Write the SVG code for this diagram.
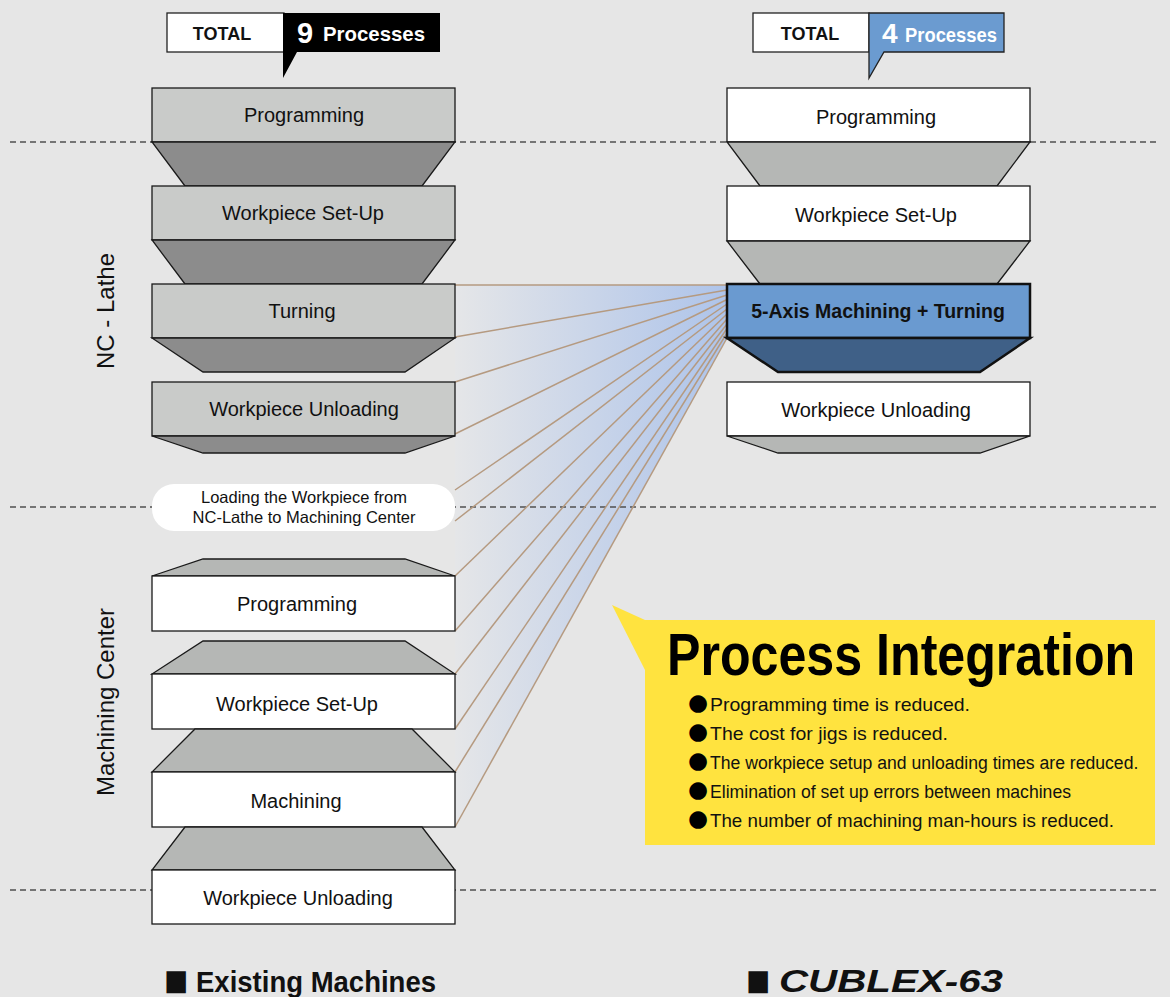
<svg xmlns="http://www.w3.org/2000/svg" width="1170" height="997" viewBox="0 0 1170 997">
<defs>
<linearGradient id="fan" gradientUnits="userSpaceOnUse" x1="455" y1="0" x2="727" y2="0">
<stop offset="0" stop-color="#e5e6e8"/>
<stop offset="1" stop-color="#aec4ea"/>
</linearGradient>
<style>
.bg{fill:#e6e6e6}
.dash{stroke:#505050;stroke-width:1.3;stroke-dasharray:6,4;fill:none}
.bx{stroke:#1a1a1a;stroke-width:1.3}
.g1{fill:#c9cbc9}
.g2{fill:#8c8c8c}
.g3{fill:#b5b7b5}
.w{fill:#ffffff}
.lbl{font-family:"Liberation Sans",Arial,sans-serif;font-size:20px;fill:#111;text-anchor:middle}
.con{stroke:#b59a80;stroke-width:1.5;fill:none}
.bul{font-family:"Liberation Sans",Arial,sans-serif;font-size:19px;fill:#111}
.dot{font-family:"DejaVu Sans",sans-serif;font-size:23px;fill:#000}
.sq{font-family:"DejaVu Sans",sans-serif;font-size:29px;fill:#111}
</style>
</defs>
<rect class="bg" x="0" y="0" width="1170" height="997"/>

<polygon points="455,285 727,285 727,338 455,827" fill="url(#fan)"/>

<g id="dividers">
<line class="dash" x1="10" y1="142" x2="1160" y2="142"/>
<line class="dash" x1="10" y1="507" x2="1160" y2="507"/>
<line class="dash" x1="10" y1="890" x2="1160" y2="890"/>
</g>

<g id="connectors">
<line class="con" x1="455" y1="285" x2="727" y2="285"/>
<line class="con" x1="455" y1="337" x2="727" y2="290"/>
<line class="con" x1="455" y1="382" x2="727" y2="295"/>
<line class="con" x1="455" y1="434" x2="727" y2="299.5"/>
<line class="con" x1="455" y1="490" x2="727" y2="304"/>
<line class="con" x1="455" y1="521" x2="727" y2="309"/>
<line class="con" x1="455" y1="576" x2="727" y2="314"/>
<line class="con" x1="455" y1="631" x2="727" y2="319"/>
<line class="con" x1="455" y1="674" x2="727" y2="324"/>
<line class="con" x1="455" y1="729" x2="727" y2="328.5"/>
<line class="con" x1="455" y1="772" x2="727" y2="333"/>
<line class="con" x1="455" y1="827" x2="727" y2="338"/>
</g>

<g id="header-left">
<rect x="167" y="13" width="117" height="39" fill="#fff" stroke="#222" stroke-width="1.3"/>
<polygon points="283,13 440,13 440,52 297,52 283,78 283,52" fill="#000"/>
<text x="222" y="40" font-family="Liberation Sans,Arial,sans-serif" font-weight="bold" font-size="18" text-anchor="middle" fill="#111">TOTAL</text>
<text x="297" y="43" font-family="Liberation Sans,Arial,sans-serif" font-weight="bold" font-size="29" fill="#fff">9</text>
<text x="323" y="41" font-family="Liberation Sans,Arial,sans-serif" font-weight="bold" font-size="21" fill="#fff" textLength="102" lengthAdjust="spacingAndGlyphs">Processes</text>
</g>

<g id="header-right">
<rect x="753" y="13" width="116" height="39" fill="#fff" stroke="#222" stroke-width="1.3"/>
<polygon points="869,13 1004,13 1004,52 884,52 869,78 869,52" fill="#6b9bd0" stroke="#222" stroke-width="1.3"/>
<text x="810" y="40" font-family="Liberation Sans,Arial,sans-serif" font-weight="bold" font-size="18" text-anchor="middle" fill="#111">TOTAL</text>
<text x="882" y="43" font-family="Liberation Sans,Arial,sans-serif" font-weight="bold" font-size="28" fill="#fff">4</text>
<text x="905" y="42" font-family="Liberation Sans,Arial,sans-serif" font-weight="bold" font-size="21" fill="#fff" textLength="92" lengthAdjust="spacingAndGlyphs">Processes</text>
</g>

<g id="side-labels">
<text transform="translate(114,311) rotate(-90)" font-family="Liberation Sans,Arial,sans-serif" font-size="24" text-anchor="middle" fill="#111">NC - Lathe</text>
<text transform="translate(114,702) rotate(-90)" font-family="Liberation Sans,Arial,sans-serif" font-size="24" text-anchor="middle" fill="#111">Machining Center</text>
</g>

<g id="nc-programming">
<rect class="bx g1" x="152" y="88" width="303" height="54"/>
<polygon class="bx g2" points="152,142 455,142 422,186 185,186"/>
<text class="lbl" x="304" y="122">Programming</text>
</g>
<g id="nc-setup">
<rect class="bx g1" x="152" y="186" width="303" height="54"/>
<polygon class="bx g2" points="152,240 455,240 422,284 185,284"/>
<text class="lbl" x="303" y="220">Workpiece Set-Up</text>
</g>
<g id="nc-turning">
<rect class="bx g1" x="152" y="284" width="303" height="54"/>
<polygon class="bx g2" points="152,338 455,338 405,372 203,372"/>
<text class="lbl" x="302" y="318">Turning</text>
</g>
<g id="nc-unloading">
<rect class="bx g1" x="152" y="382" width="303" height="54"/>
<polygon class="bx g2" points="152,436 455,436 405,453 203,453"/>
<text class="lbl" x="304" y="416">Workpiece Unloading</text>
</g>

<g id="loading">
<rect x="152" y="484" width="303" height="47" rx="22" ry="22" fill="#fff"/>
<text x="304" y="503" font-family="Liberation Sans,Arial,sans-serif" font-size="16.5" text-anchor="middle" fill="#111">Loading the Workpiece from</text>
<text x="304" y="523" font-family="Liberation Sans,Arial,sans-serif" font-size="16.5" text-anchor="middle" fill="#111">NC-Lathe to Machining Center</text>
</g>

<g id="mc-programming">
<polygon class="bx g3" points="203,559 405,559 455,576 152,576"/>
<rect class="bx w" x="152" y="576" width="303" height="55"/>
<text class="lbl" x="297" y="611">Programming</text>
</g>
<g id="mc-setup">
<polygon class="bx g3" points="203,641 405,641 455,674 152,674"/>
<rect class="bx w" x="152" y="674" width="303" height="55"/>
<text class="lbl" x="297" y="711">Workpiece Set-Up</text>
</g>
<g id="mc-machining">
<polygon class="bx g3" points="195,729 412,729 455,772 152,772"/>
<rect class="bx w" x="152" y="772" width="303" height="55"/>
<text class="lbl" x="296" y="808">Machining</text>
</g>
<g id="mc-unloading">
<polygon class="bx g3" points="185,827 422,827 455,870 152,870"/>
<rect class="bx w" x="152" y="870" width="303" height="54"/>
<text class="lbl" x="298" y="905">Workpiece Unloading</text>
</g>

<g id="cx-programming">
<rect class="bx w" x="727" y="88" width="303" height="54"/>
<polygon class="bx g3" points="727,142 1030,142 997,186 760,186"/>
<text class="lbl" x="876" y="124">Programming</text>
</g>
<g id="cx-setup">
<rect class="bx w" x="727" y="186" width="303" height="55"/>
<polygon class="bx g3" points="727,241 1030,241 997,284 760,284"/>
<text class="lbl" x="876" y="222">Workpiece Set-Up</text>
</g>
<g id="cx-5axis">
<rect x="727" y="284" width="303" height="54" fill="#6a9ad0" stroke="#111" stroke-width="2.5"/>
<polygon points="727,338 1030,338 980,372 778,372" fill="#3f6087" stroke="#111" stroke-width="2.5"/>
<text x="878" y="318" font-family="Liberation Sans,Arial,sans-serif" font-weight="bold" font-size="19.5" text-anchor="middle" fill="#111">5-Axis Machining + Turning</text>
</g>
<g id="cx-unloading">
<rect class="bx w" x="727" y="382" width="303" height="54"/>
<polygon class="bx g3" points="727,436 1030,436 980,453 778,453"/>
<text class="lbl" x="876" y="417">Workpiece Unloading</text>
</g>

<g id="integration">
<polygon points="612,605 645,620 1155,620 1155,845 645,845 645,670" fill="#ffe33f"/>
<text transform="translate(667,675) scale(0.836,1)" font-family="Liberation Sans,Arial,sans-serif" font-weight="bold" font-size="60" fill="#000">Process Integration</text>
<text class="dot" x="688" y="710">●</text>
<text class="dot" x="688" y="739">●</text>
<text class="dot" x="688" y="768">●</text>
<text class="dot" x="688" y="797">●</text>
<text class="dot" x="688" y="826">●</text>
<text class="bul" x="710" y="711" textLength="260" lengthAdjust="spacingAndGlyphs">Programming time is reduced.</text>
<text class="bul" x="710" y="740" textLength="238" lengthAdjust="spacingAndGlyphs">The cost for jigs is reduced.</text>
<text class="bul" transform="translate(710,769) scale(0.927,1)">The workpiece setup and unloading times are reduced.</text>
<text class="bul" x="710" y="798" textLength="361" lengthAdjust="spacingAndGlyphs">Elimination of set up errors between machines</text>
<text class="bul" x="710" y="827" textLength="404" lengthAdjust="spacingAndGlyphs">The number of machining man-hours is reduced.</text>
</g>

<g id="footer">
<text class="sq" x="164" y="990" textLength="24" lengthAdjust="spacingAndGlyphs">■</text>
<text x="196" y="992" font-family="Liberation Sans,Arial,sans-serif" font-weight="bold" font-size="29" fill="#111" textLength="240" lengthAdjust="spacingAndGlyphs">Existing Machines</text>
<text class="sq" x="746" y="990" textLength="24" lengthAdjust="spacingAndGlyphs">■</text>
<text x="779" y="992" font-family="Liberation Sans,Arial,sans-serif" font-weight="bold" font-style="italic" font-size="31" fill="#111" textLength="224" lengthAdjust="spacingAndGlyphs">CUBLEX-63</text>
</g>
</svg>
